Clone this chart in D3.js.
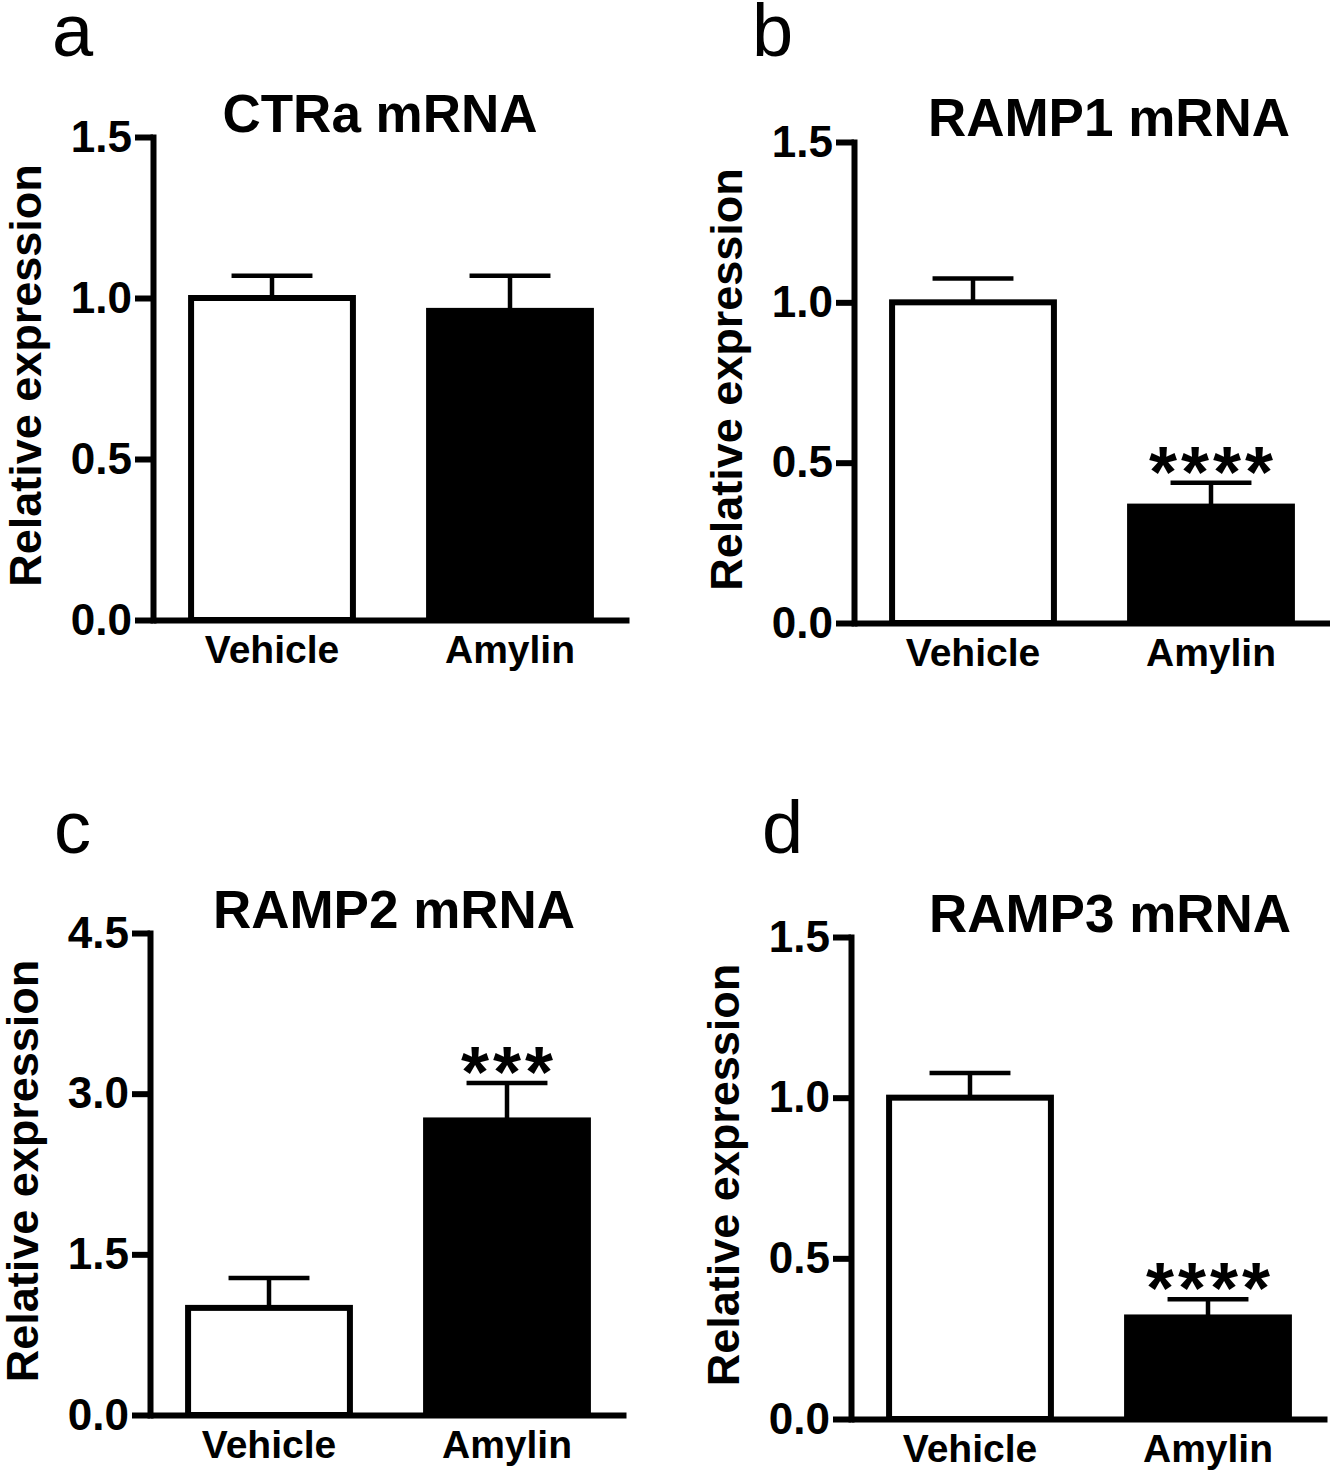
<!DOCTYPE html>
<html>
<head>
<meta charset="utf-8">
<script src="https://cdnjs.cloudflare.com/ajax/libs/d3/7.8.5/d3.min.js"></script>
<style>
  body { margin: 0; background: #fff; }
  svg { display: block; font-family: "Liberation Sans", Arial, sans-serif; }
</style>
</head>
<body>
<div id="chart"></div>
<script>
// values
const groups = ['Vehicle', 'Amylin'];
const panelLetters = ['a', 'b', 'c', 'd'];
const titles = ['CTRa mRNA', 'RAMP1 mRNA', 'RAMP2 mRNA', 'RAMP3 mRNA'];
const means = [[1.0, 0.96], [1.0, 0.363], [1.0, 2.75], [1.0, 0.316]];
const sems = [[0.069, 0.109], [0.074, 0.074], [0.28, 0.35], [0.077, 0.057]];
const yMax = [1.5, 1.5, 4.5, 1.5];
const yTicks = [[0, 0.5, 1.0, 1.5], [0, 0.5, 1.0, 1.5], [0, 1.5, 3.0, 4.5], [0, 0.5, 1.0, 1.5]];
const stars = [['', ''], ['', '****'], ['', '***'], ['', '****']];
const yLabel = 'Relative expression';

// where each panel sits (axis origin, top of y axis, title centre, letter)
const layout = [
  { x0: 153, y0: 620, yTop: 137, titleX: 380, titleY: 132, letterX: 52, letterY: 56 },
  { x0: 854, y0: 623, yTop: 142, titleX: 1109, titleY: 136, letterX: 752, letterY: 56 },
  { x0: 150, y0: 1415, yTop: 933, titleX: 394, titleY: 928, letterX: 54, letterY: 853 },
  { x0: 851, y0: 1419, yTop: 937, titleX: 1110, titleY: 932, letterX: 762, letterY: 853 }
];
const plotW = 476;

const svg = d3.select('#chart').append('svg').attr('width', 1330).attr('height', 1473);

layout.forEach((p, i) => {
  const g = svg.append('g');

  const x = d3.scaleBand().domain(groups).range([p.x0, p.x0 + plotW]).paddingInner(0.32).paddingOuter(0.16);
  const y = d3.scaleLinear().domain([0, yMax[i]]).range([p.y0, p.yTop]);

  const rows = groups.map((k, j) => ({ k: k, m: means[i][j], e: sems[i][j], s: stars[i][j] }));

  // error bars (upper only)
  const capW = x.bandwidth() / 2;
  g.selectAll('line.stem').data(rows).enter().append('line')
    .attr('x1', d => x(d.k) + x.bandwidth() / 2).attr('x2', d => x(d.k) + x.bandwidth() / 2)
    .attr('y1', d => y(d.m)).attr('y2', d => y(d.m + d.e))
    .attr('stroke', '#000').attr('stroke-width', 4.5);
  g.selectAll('line.cap').data(rows).enter().append('line')
    .attr('x1', d => x(d.k) + x.bandwidth() / 2 - capW / 2).attr('x2', d => x(d.k) + x.bandwidth() / 2 + capW / 2)
    .attr('y1', d => y(d.m + d.e)).attr('y2', d => y(d.m + d.e))
    .attr('stroke', '#000').attr('stroke-width', 4.5);

  // bars
  g.selectAll('rect').data(rows).enter().append('rect')
    .attr('x', d => x(d.k))
    .attr('y', d => y(d.m))
    .attr('width', x.bandwidth())
    .attr('height', d => y(0) - y(d.m))
    .attr('fill', (d, j) => j === 0 ? '#fff' : '#000')
    .attr('stroke', '#000').attr('stroke-width', 6);

  // significance stars
  g.selectAll('text.star').data(rows.filter(d => d.s)).enter().append('text')
    .attr('x', d => x(d.k) + x.bandwidth() / 2 + 2)
    .attr('y', d => y(d.m + d.e) + 14)
    .attr('text-anchor', 'middle')
    .style('font-size', '72px').style('font-weight', 'bold').style('letter-spacing', '4px')
    .text(d => d.s);

  // y axis
  const yAxis = g.append('g').attr('transform', `translate(${p.x0},0)`)
    .call(d3.axisLeft(y).tickValues(yTicks[i]).tickSize(18).tickSizeOuter(0).tickPadding(3).tickFormat(d3.format('.1f')));
  yAxis.select('.domain').attr('stroke-width', 6).attr('stroke-linecap', 'square');
  yAxis.selectAll('.tick line').attr('stroke-width', 6);
  yAxis.selectAll('.tick text').style('font-size', '44px').style('font-weight', 'bold').attr('fill', '#000');

  // x axis
  const xAxis = g.append('g').attr('transform', `translate(0,${p.y0})`)
    .call(d3.axisBottom(x).tickSize(0).tickSizeOuter(0).tickPadding(15));
  xAxis.select('.domain').attr('stroke-width', 6);
  xAxis.selectAll('.tick text').style('font-size', '39px').style('font-weight', 'bold').attr('fill', '#000');

  // y label
  g.append('text')
    .attr('transform', `translate(${p.x0 - 112},${(p.y0 + p.yTop) / 2 - 3}) rotate(-90)`)
    .attr('text-anchor', 'middle')
    .style('font-size', '45px').style('font-weight', 'bold')
    .text(yLabel);

  // title
  g.append('text')
    .attr('x', p.titleX).attr('y', p.titleY)
    .attr('text-anchor', 'middle')
    .style('font-size', '53px').style('font-weight', 'bold')
    .text(titles[i]);

  // panel letter
  g.append('text')
    .attr('x', p.letterX).attr('y', p.letterY)
    .style('font-size', '74px')
    .text(panelLetters[i]);
});
</script>
</body>
</html>
